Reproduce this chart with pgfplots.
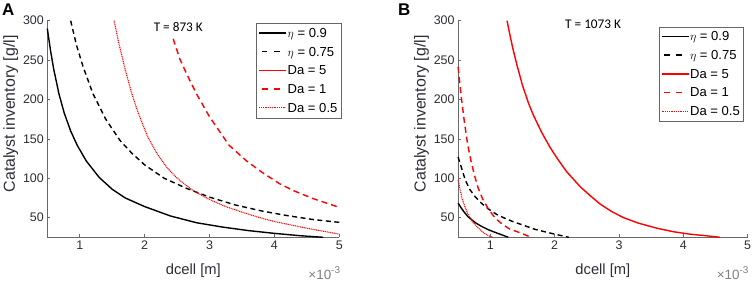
\documentclass[border=0pt]{standalone}
\usepackage{pgfplots}
\pgfplotsset{compat=1.18}
\usepackage{fontspec}
\setmainfont{Liberation Sans}
\newfontfamily\carlito{Carlito}
\definecolor{axgray}{RGB}{105,105,105}
\definecolor{txtgray}{RGB}{45,45,55}
% legend samples drawn as coloured rules
\newcommand{\lsolid}[1]{\textcolor{#1}{\rule[3.6bp]{27bp}{1.4bp}}}
\newcommand{\ldash}[5]{\textcolor{#1}{\hbox to 27bp{\xleaders\hbox{\rule[#5]{#2}{#4}\hspace{#3}}\hfill}}}
\newcommand{\mylegend}{%
  \fontsize{13.1}{18.8}\selectfont
  \begin{tabular}{@{\hspace{2bp}}l@{\hspace{1.5bp}}l@{\hspace{3bp}}}
  \lsolid{black} & $\eta$ = 0.9\\
  \ldash{black}{5.5bp}{4bp}{1.4bp}{3.6bp} & $\eta$ = 0.75\\
  \lsolid{red} & Da = 5\\
  \ldash{red}{6bp}{4bp}{1.4bp}{3.6bp} & Da = 1\\
  \ldash{red}{1bp}{0.8bp}{1.1bp}{3.75bp} & Da = 0.5
  \end{tabular}}
\pgfplotsset{
 panel/.style={
  scale only axis,
  height=216.6bp,
  xmin=0.5,xmax=5,ymin=25,ymax=300,
  axis lines=left,
  axis line style={-,axgray,line width=0.7bp},
  tick style={axgray,line width=0.6bp},
  major tick length=3bp,
  tick align=inside,
  xtick={1,2,3,4,5},
  ytick={50,100,150,200,250,300},
  /pgf/number format/assume math mode=true,
  tick label style={font=\fontsize{12.5}{14}\selectfont, text=txtgray},
  xlabel={dcell [m]},
  ylabel={Catalyst inventory [g/l]},
  xlabel style={font=\fontsize{14.8}{16}\selectfont, text=txtgray, yshift=-7bp},
  ylabel style={font=\fontsize{16}{18}\selectfont, text=txtgray, at={(ticklabel cs:0.57,-2bp)}},
  clip=false,
 },
 s1/.style={black, solid, line width=1.4bp},
 s2/.style={black, line width=1.4bp, dash pattern=on 5bp off 3.5bp},
 s3/.style={red, solid, line width=1.4bp},
 s4/.style={red, line width=1.4bp, dash pattern=on 6bp off 4bp},
 s5/.style={red, line width=1.1bp, dash pattern=on 1bp off 0.8bp},
}
\begin{document}
\begin{tikzpicture}
\useasboundingbox (0,0) rectangle (754bp,282bp);
% ---------------- Panel A ----------------
\begin{axis}[panel, name=axA, width=292bp, at={(47.3bp,44.7bp)}, anchor=south west]
\addplot[s1] coordinates {(0.5,290) (0.55,262) (0.6,238) (0.68,207) (0.76,183) (0.86,160) (0.96,142) (1.1,122) (1.3,101) (1.5,86) (1.7,75) (2.0,64) (2.4,52) (2.8,43.5) (3.2,38) (3.6,33.5) (4.0,30) (4.4,27) (4.75,25)};
\addplot[s2] coordinates {(0.86,300) (0.95,269) (1.05,242) (1.2,208) (1.4,175) (1.62,148) (1.8,132) (2.0,117) (2.3,100) (2.65,87) (3.0,76) (3.4,66) (3.8,58.5) (4.2,52.5) (4.6,47.5) (5.0,44)};
\addplot[s4] coordinates {(2.44,277) (2.54,252) (2.65,232) (2.8,207) (3.0,178) (3.3,142) (3.57,122) (3.8,108) (4.08,93) (4.3,84) (4.6,74) (5.0,63)};
\addplot[s5] coordinates {(1.53,300) (1.6,272) (1.7,238) (1.8,208) (1.9,183) (2.05,152) (2.2,130) (2.35,113) (2.5,100) (2.75,84) (3.0,73) (3.25,64) (3.5,57) (3.75,50.5) (4.0,45) (4.5,36.5) (5.0,29)};
\end{axis}
% ---------------- Panel B ----------------
\begin{axis}[panel, name=axB, width=289.6bp, at={(458.1bp,44.7bp)}, anchor=south west]
\addplot[s1] coordinates {(0.5,68.4) (0.55,62) (0.6,56.5) (0.65,51.5) (0.71,47.3) (0.78,43) (0.85,39.5) (0.97,34.6) (1.1,30.5) (1.2,27.5) (1.28,25)};
\addplot[s2] coordinates {(0.5,127) (0.55,114) (0.61,98) (0.68,86) (0.76,77) (0.86,68.5) (0.97,61) (1.1,54) (1.23,49) (1.35,45) (1.49,41) (1.7,35) (1.95,30) (2.22,25)};
\addplot[s3] coordinates {(1.26,300) (1.3,284) (1.35,265) (1.41,245) (1.5,218) (1.6,194) (1.67,180) (1.8,158) (1.93,139) (2.05,124) (2.19,108) (2.4,89) (2.55,78) (2.71,67) (2.9,57) (3.07,50) (3.3,43) (3.59,36.5) (3.85,32) (4.1,29) (4.35,27) (4.57,25)};
\addplot[s4] coordinates {(0.5,241) (0.53,218) (0.56,196) (0.6,170) (0.65,142) (0.7,122) (0.76,102) (0.81,88) (0.88,74) (0.97,61) (1.07,50) (1.18,42) (1.3,35.5) (1.49,30) (1.63,25)};
\addplot[s5] coordinates {(0.5,98) (0.53,86) (0.56,75) (0.6,65) (0.66,53) (0.72,45) (0.81,37) (0.9,30.5) (0.97,27) (1.04,25)};
\end{axis}
% legends
\node[anchor=north east, draw=black!60, line width=0.8bp, fill=white, inner sep=0.5bp] at ([xshift=2bp,yshift=-2.6bp]axA.north east) {\mylegend};
\node[anchor=north east, draw=black!60, line width=0.8bp, fill=white, inner sep=0.5bp] at ([xshift=-4bp,yshift=-6bp]axB.north east) {\mylegend};
% annotations
\node[font=\carlito\fontsize{13.3}{14}\selectfont] at ([xshift=131bp,yshift=-6bp]axA.north west) {T = 873 K};
\node[font=\carlito\fontsize{13.3}{14}\selectfont] at ([xshift=135bp,yshift=-4bp]axB.north west) {T = 1073 K};
\node[anchor=north east, font=\fontsize{13.5}{14}\selectfont, text=gray, inner sep=0pt] at ([yshift=-29bp,xshift=1bp]axA.south east) {×10\raisebox{0.8ex}{\fontsize{10}{10}\selectfont -3}};
\node[anchor=north east, font=\fontsize{13.5}{14}\selectfont, text=gray, inner sep=0pt] at ([yshift=-29bp,xshift=1bp]axB.south east) {×10\raisebox{0.8ex}{\fontsize{10}{10}\selectfont -3}};
\node[anchor=north west, font=\bfseries\fontsize{17}{17}\selectfont, inner sep=0pt] at (2bp,278bp) {A};
\node[anchor=north west, font=\bfseries\fontsize{17}{17}\selectfont, inner sep=0pt] at (398bp,278bp) {B};
\end{tikzpicture}
\end{document}
